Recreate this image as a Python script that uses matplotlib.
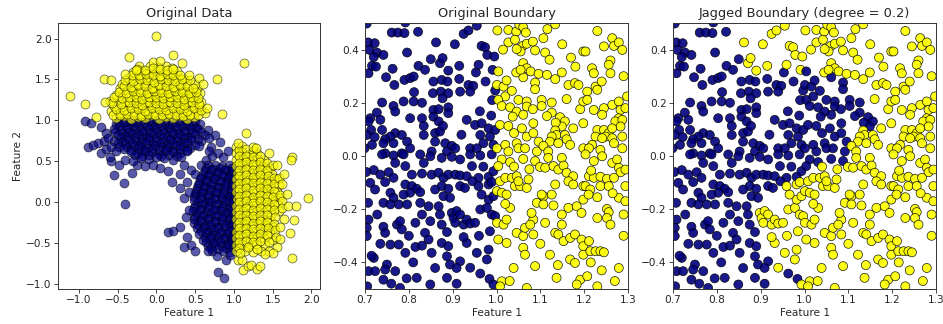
import numpy as np
import matplotlib
matplotlib.use("Agg")
import matplotlib.pyplot as plt

# ---------------- Left panel: "Original Data" (class 0 = navy, class 1 = yellow)
yellow_top = [
    (-0.52,1.03),(-0.42,1.05),(-0.33,1.02),(-0.24,1.04),(-0.15,1.03),(-0.06,1.06),(0.03,1.02),(0.12,1.04),(0.21,1.03),(0.30,1.05),(0.39,1.02),(0.48,1.04),
    (-0.58,1.11),(-0.47,1.09),(-0.38,1.12),(-0.29,1.10),(-0.20,1.08),(-0.11,1.12),(-0.02,1.10),(0.07,1.11),(0.16,1.09),(0.25,1.12),(0.34,1.10),(0.43,1.08),(0.52,1.11),(0.62,1.09),
    (-0.55,1.18),(-0.45,1.16),(-0.36,1.19),(-0.27,1.17),(-0.18,1.15),(-0.09,1.19),(0.00,1.17),(0.09,1.16),(0.18,1.19),(0.27,1.17),(0.36,1.15),(0.45,1.18),(0.55,1.17),
    (-0.60,1.24),(-0.50,1.26),(-0.40,1.23),(-0.31,1.25),(-0.22,1.24),(-0.13,1.22),(-0.04,1.26),(0.05,1.24),(0.14,1.23),(0.23,1.26),(0.32,1.24),(0.41,1.22),(0.50,1.25),(0.58,1.23),
    (-0.52,1.31),(-0.43,1.33),(-0.34,1.30),(-0.25,1.32),(-0.16,1.31),(-0.07,1.29),(0.02,1.33),(0.11,1.31),(0.20,1.30),(0.29,1.32),(0.38,1.31),(0.47,1.29),(0.56,1.33),
    (-0.47,1.39),(-0.38,1.37),(-0.29,1.40),(-0.20,1.38),(-0.11,1.36),(-0.02,1.40),(0.07,1.38),(0.16,1.37),(0.25,1.39),(0.34,1.38),(0.43,1.36),(0.52,1.39),
    (-0.45,1.45),(-0.33,1.47),(-0.24,1.44),(-0.15,1.46),(-0.06,1.45),(0.03,1.43),(0.12,1.47),(0.21,1.45),(0.30,1.44),(0.40,1.46),(0.50,1.44),
    (-0.37,1.52),(-0.27,1.54),(-0.18,1.51),(-0.09,1.53),(0.00,1.52),(0.09,1.50),(0.18,1.54),(0.27,1.52),(0.36,1.51),
    (-0.30,1.59),(-0.20,1.61),(-0.10,1.58),(-0.01,1.60),(0.08,1.59),(0.17,1.57),(0.26,1.60),
    (-0.22,1.66),(-0.08,1.67),(0.02,1.65),(0.12,1.67),(0.20,1.64),(-0.05,1.71),(0.05,1.72),
    (-0.56,1.07),(-0.47,1.06),(-0.38,1.08),(-0.29,1.07),(-0.20,1.05),(-0.11,1.08),(-0.02,1.07),(0.07,1.06),(0.16,1.08),(0.25,1.07),(0.34,1.05),(0.43,1.07),(0.53,1.06),
    (-0.52,1.14),(-0.42,1.13),(-0.33,1.15),(-0.24,1.14),(-0.15,1.12),(-0.06,1.15),(0.03,1.14),(0.12,1.13),(0.21,1.15),(0.30,1.14),(0.39,1.12),(0.48,1.15),(0.57,1.13),
    (-0.57,1.21),(-0.46,1.20),(-0.36,1.22),(-0.27,1.21),(-0.18,1.19),(-0.09,1.22),(0.00,1.21),(0.09,1.20),(0.18,1.22),(0.27,1.21),(0.36,1.19),(0.46,1.22),(0.55,1.20),
    (-0.55,1.28),(-0.45,1.27),(-0.36,1.29),(-0.27,1.28),(-0.18,1.26),(-0.09,1.29),(0.00,1.28),(0.09,1.27),(0.18,1.29),(0.27,1.28),(0.36,1.26),(0.45,1.29),(0.53,1.27),
    (-0.48,1.35),(-0.39,1.34),(-0.30,1.36),(-0.21,1.35),(-0.12,1.33),(-0.03,1.36),(0.06,1.35),(0.15,1.34),(0.24,1.36),(0.33,1.35),(0.42,1.33),(0.51,1.35),
    (-0.42,1.42),(-0.33,1.41),(-0.24,1.43),(-0.15,1.42),(-0.06,1.40),(0.03,1.43),(0.12,1.42),(0.21,1.41),(0.30,1.43),(0.39,1.42),(0.47,1.40),
    (-0.40,1.49),(-0.30,1.48),(-0.21,1.50),(-0.12,1.49),(-0.03,1.47),(0.06,1.50),(0.15,1.49),(0.24,1.48),(0.33,1.50),(0.43,1.49),
    (-0.32,1.56),(-0.23,1.55),(-0.14,1.57),(-0.05,1.56),(0.04,1.54),(0.13,1.57),(0.22,1.56),(0.31,1.55),
    (-0.25,1.63),(-0.15,1.62),(-0.05,1.64),(0.04,1.63),(0.13,1.61),(0.22,1.63),
    (-1.12,1.30),(-0.92,1.20),(-0.78,1.04),(-0.68,1.50),(-0.58,1.49),(-0.67,1.22),(-0.35,1.78),(-0.27,1.62),
    (0.00,2.03),(0.21,1.80),(0.33,1.70),(0.55,1.52),(0.60,1.45),(0.78,1.50),(0.65,1.15),(0.85,1.08),(1.13,1.70),(0.42,1.55),(-0.40,1.57),
]
yellow_right = [
    (1.02,0.68),(1.10,0.69),
    (1.02,0.60),(1.11,0.61),(1.20,0.59),(1.30,0.60),
    (1.03,0.52),(1.12,0.53),(1.21,0.51),(1.30,0.53),(1.39,0.52),
    (1.02,0.44),(1.11,0.45),(1.20,0.43),(1.29,0.45),(1.38,0.44),(1.46,0.42),
    (1.04,0.36),(1.13,0.37),(1.22,0.35),(1.31,0.37),(1.40,0.36),(1.49,0.34),
    (1.02,0.28),(1.11,0.29),(1.20,0.27),(1.29,0.29),(1.38,0.28),(1.47,0.26),(1.56,0.29),
    (1.03,0.20),(1.12,0.21),(1.21,0.19),(1.30,0.21),(1.39,0.20),(1.48,0.18),(1.58,0.21),
    (1.02,0.12),(1.11,0.13),(1.20,0.11),(1.29,0.13),(1.38,0.12),(1.47,0.10),(1.56,0.13),
    (1.04,0.04),(1.13,0.05),(1.22,0.03),(1.31,0.05),(1.40,0.04),(1.49,0.02),(1.60,0.05),
    (1.02,-0.04),(1.11,-0.03),(1.20,-0.05),(1.29,-0.03),(1.38,-0.04),(1.47,-0.06),(1.57,-0.03),
    (1.03,-0.12),(1.12,-0.11),(1.21,-0.13),(1.30,-0.11),(1.39,-0.12),(1.48,-0.14),(1.58,-0.11),
    (1.02,-0.20),(1.11,-0.19),(1.20,-0.21),(1.29,-0.19),(1.38,-0.20),(1.47,-0.22),
    (1.04,-0.28),(1.13,-0.27),(1.22,-0.29),(1.31,-0.27),(1.40,-0.28),(1.50,-0.30),
    (1.02,-0.36),(1.11,-0.35),(1.20,-0.37),(1.29,-0.35),(1.38,-0.36),(1.47,-0.38),
    (1.03,-0.44),(1.12,-0.43),(1.21,-0.45),(1.30,-0.43),(1.39,-0.44),(1.50,-0.46),
    (1.02,-0.52),(1.11,-0.51),(1.20,-0.53),(1.29,-0.51),(1.40,-0.52),
    (1.03,-0.60),(1.14,-0.59),(1.25,-0.61),(1.35,-0.60),
    (1.06,0.64),(1.15,0.65),(1.25,0.63),
    (1.06,0.56),(1.16,0.57),(1.25,0.55),(1.34,0.57),
    (1.07,0.48),(1.16,0.49),(1.25,0.47),(1.34,0.49),(1.43,0.48),
    (1.06,0.40),(1.15,0.41),(1.24,0.39),(1.33,0.41),(1.42,0.40),
    (1.07,0.32),(1.16,0.33),(1.25,0.31),(1.34,0.33),(1.44,0.32),(1.52,0.30),
    (1.06,0.24),(1.15,0.25),(1.24,0.23),(1.33,0.25),(1.43,0.24),(1.52,0.22),
    (1.07,0.16),(1.16,0.17),(1.25,0.15),(1.34,0.17),(1.43,0.16),(1.52,0.14),
    (1.06,0.08),(1.15,0.09),(1.24,0.07),(1.33,0.09),(1.42,0.08),(1.51,0.06),(1.60,0.09),
    (1.07,0.00),(1.16,0.01),(1.25,-0.01),(1.34,0.01),(1.43,0.00),(1.52,-0.02),(1.62,0.01),
    (1.06,-0.08),(1.15,-0.07),(1.24,-0.09),(1.33,-0.07),(1.42,-0.08),(1.52,-0.10),(1.62,-0.07),
    (1.07,-0.16),(1.16,-0.15),(1.25,-0.17),(1.34,-0.15),(1.43,-0.16),(1.53,-0.18),
    (1.06,-0.24),(1.15,-0.23),(1.24,-0.25),(1.33,-0.23),(1.42,-0.24),(1.52,-0.26),
    (1.07,-0.32),(1.16,-0.31),(1.25,-0.33),(1.34,-0.31),(1.44,-0.32),(1.53,-0.34),
    (1.06,-0.40),(1.15,-0.39),(1.24,-0.41),(1.33,-0.39),(1.42,-0.40),(1.54,-0.42),
    (1.07,-0.48),(1.16,-0.47),(1.25,-0.49),(1.34,-0.47),(1.45,-0.48),
    (1.07,-0.56),(1.18,-0.55),(1.30,-0.57),
    (1.15,0.84),(1.05,0.72),(1.25,0.68),(1.28,0.66),(1.50,0.45),(1.55,0.45),(1.58,0.30),(1.62,0.22),
    (1.68,0.10),(1.70,-0.05),(1.80,-0.05),(1.78,-0.22),(1.95,0.05),(1.75,0.55),(1.73,0.52),(1.65,-0.20),
    (1.72,-0.38),(1.60,-0.45),(1.75,-0.68),(1.55,-0.55),(1.45,-0.60),(1.50,-0.62),(1.40,-0.63),(1.12,-0.83),
    (1.18,-0.78),(1.22,-0.77),(1.30,-0.82),(1.33,-0.78),(1.05,-0.70),(1.10,-0.70),(1.08,-0.62),(1.65,0.35),
    (1.45,0.60),(1.60,-0.30),
]
navy_upper = [
    (-0.50,0.99),(-0.40,0.99),(-0.30,0.99),(-0.20,0.99),(-0.10,0.99),(0.00,0.99),(0.10,0.99),(0.20,0.99),(0.30,0.99),(0.40,0.99),(0.50,0.99),
    (-0.52,0.96),(-0.43,0.97),(-0.34,0.95),(-0.25,0.97),(-0.16,0.96),(-0.07,0.94),(0.02,0.97),(0.11,0.96),(0.20,0.95),(0.29,0.97),(0.38,0.96),(0.47,0.94),(0.56,0.96),
    (-0.48,0.93),(-0.39,0.92),(-0.30,0.93),(-0.21,0.91),(-0.12,0.93),(-0.03,0.92),(0.06,0.93),(0.15,0.91),(0.24,0.93),(0.33,0.92),(0.42,0.93),(0.51,0.91),
    (-0.55,0.89),(-0.46,0.88),(-0.37,0.90),(-0.28,0.89),(-0.19,0.87),(-0.10,0.90),(-0.01,0.89),(0.08,0.88),(0.17,0.90),(0.26,0.89),(0.35,0.87),(0.44,0.90),(0.53,0.89),(0.66,0.88),
    (-0.53,0.86),(-0.44,0.85),(-0.35,0.86),(-0.26,0.84),(-0.17,0.86),(-0.08,0.85),(0.01,0.86),(0.10,0.84),(0.19,0.86),(0.28,0.85),(0.37,0.86),(0.46,0.84),(0.58,0.86),
    (-0.50,0.82),(-0.41,0.81),(-0.32,0.83),(-0.23,0.82),(-0.14,0.80),(-0.05,0.83),(0.04,0.82),(0.13,0.81),(0.22,0.83),(0.31,0.82),(0.40,0.80),(0.50,0.83),(0.62,0.82),(0.76,0.82),
    (-0.46,0.79),(-0.37,0.78),(-0.28,0.79),(-0.19,0.77),(-0.10,0.79),(-0.01,0.78),(0.08,0.79),(0.17,0.77),(0.26,0.79),(0.35,0.78),(0.44,0.79),(0.54,0.77),(0.68,0.79),
    (-0.55,0.75),(-0.45,0.74),(-0.36,0.76),(-0.27,0.75),(-0.18,0.73),(-0.09,0.76),(0.00,0.75),(0.09,0.74),(0.18,0.76),(0.27,0.75),(0.36,0.73),(0.45,0.76),(0.58,0.75),(0.82,0.74),
    (-0.50,0.72),(-0.41,0.71),(-0.32,0.72),(-0.23,0.70),(-0.14,0.72),(-0.05,0.71),(0.04,0.72),(0.13,0.70),(0.22,0.72),(0.31,0.71),(0.40,0.72),(0.50,0.70),
    (-0.48,0.68),(-0.38,0.67),(-0.29,0.69),(-0.20,0.68),(-0.11,0.66),(-0.02,0.69),(0.07,0.68),(0.16,0.67),(0.25,0.69),(0.34,0.68),(0.43,0.66),(0.55,0.69),(0.70,0.68),
    (-0.42,0.65),(-0.33,0.64),(-0.24,0.65),(-0.15,0.63),(-0.06,0.65),(0.03,0.64),(0.12,0.65),(0.21,0.63),(0.30,0.65),(0.39,0.64),
    (-0.33,0.61),(-0.24,0.60),(-0.15,0.62),(-0.06,0.61),(0.03,0.59),(0.12,0.62),(0.21,0.61),(0.30,0.60),(0.40,0.62),
    (-0.28,0.58),(-0.19,0.57),(-0.10,0.58),(0.06,0.57),(0.16,0.58),(0.26,0.57),
    (-0.20,0.54),(-0.10,0.53),(0.00,0.55),(0.10,0.54),(0.22,0.52),(0.32,0.55),
    (-0.92,0.99),(-0.85,0.97),(-0.72,0.92),(-0.65,0.85),(-0.88,0.68),(-0.82,0.70),(-0.75,0.72),(-0.68,0.75),
    (-0.62,0.78),(-0.72,0.60),(-0.65,0.65),(-0.58,0.68),(-0.52,0.62),(-0.58,0.50),(-0.48,0.46),(-0.40,0.52),
    (-0.55,0.33),(-0.42,0.23),(-0.40,-0.02),(-0.32,0.36),(-0.25,0.45),(-0.15,0.44),(-0.05,0.45),(0.05,0.42),
    (0.15,0.38),(0.30,0.35),(0.20,0.25),(-0.60,0.55),(-0.30,0.50),
    (0.35,0.45),(0.30,0.18),(0.40,0.25),(0.45,0.40),(0.50,0.35),(0.58,0.46),(0.64,0.52),(0.72,0.56),
    (0.68,0.62),(0.80,0.60),(0.86,0.55),(0.92,0.62),
]
navy_lower = [
    (0.66,0.45),(0.75,0.46),(0.84,0.44),(0.93,0.45),
    (0.64,0.42),(0.73,0.41),(0.82,0.42),(0.91,0.40),(0.98,0.42),
    (0.62,0.38),(0.71,0.39),(0.80,0.37),(0.89,0.39),(0.97,0.38),
    (0.60,0.35),(0.69,0.34),(0.78,0.35),(0.87,0.33),(0.96,0.35),
    (0.58,0.31),(0.67,0.32),(0.76,0.30),(0.85,0.32),(0.94,0.31),
    (0.56,0.28),(0.65,0.27),(0.74,0.28),(0.83,0.26),(0.92,0.28),(0.99,0.30),
    (0.55,0.24),(0.64,0.25),(0.73,0.23),(0.82,0.25),(0.91,0.24),(0.98,0.22),
    (0.53,0.21),(0.62,0.20),(0.71,0.21),(0.80,0.19),(0.89,0.21),(0.97,0.20),
    (0.52,0.17),(0.61,0.18),(0.70,0.16),(0.79,0.18),(0.88,0.17),(0.96,0.15),
    (0.51,0.14),(0.60,0.13),(0.69,0.14),(0.78,0.12),(0.87,0.14),(0.96,0.13),
    (0.50,0.10),(0.59,0.11),(0.68,0.09),(0.77,0.11),(0.86,0.10),(0.95,0.08),
    (0.49,0.07),(0.58,0.06),(0.67,0.07),(0.76,0.05),(0.85,0.07),(0.94,0.06),(0.99,0.05),
    (0.48,0.03),(0.57,0.04),(0.66,0.02),(0.75,0.04),(0.84,0.03),(0.93,0.01),
    (0.53,0.00),(0.62,-0.01),(0.71,0.00),(0.80,-0.02),(0.89,0.00),(0.98,-0.01),
    (0.50,-0.04),(0.59,-0.03),(0.68,-0.05),(0.77,-0.03),(0.86,-0.04),(0.95,-0.06),
    (0.48,-0.07),(0.57,-0.08),(0.66,-0.07),(0.75,-0.09),(0.84,-0.07),(0.93,-0.08),
    (0.47,-0.11),(0.56,-0.10),(0.65,-0.12),(0.74,-0.10),(0.83,-0.11),(0.92,-0.13),(0.98,-0.10),
    (0.52,-0.14),(0.61,-0.15),(0.70,-0.14),(0.79,-0.16),(0.88,-0.14),(0.97,-0.15),
    (0.50,-0.18),(0.59,-0.17),(0.68,-0.19),(0.77,-0.17),(0.86,-0.18),(0.95,-0.20),
    (0.49,-0.21),(0.58,-0.22),(0.67,-0.21),(0.76,-0.23),(0.85,-0.21),(0.94,-0.22),
    (0.48,-0.25),(0.57,-0.24),(0.66,-0.26),(0.75,-0.24),(0.84,-0.25),(0.93,-0.27),(0.99,-0.25),
    (0.53,-0.28),(0.62,-0.29),(0.71,-0.28),(0.80,-0.30),(0.89,-0.28),(0.98,-0.29),
    (0.52,-0.32),(0.61,-0.31),(0.70,-0.33),(0.79,-0.31),(0.88,-0.32),(0.97,-0.34),
    (0.57,-0.35),(0.66,-0.36),(0.75,-0.35),(0.84,-0.37),(0.93,-0.35),
    (0.55,-0.39),(0.64,-0.38),(0.73,-0.40),(0.82,-0.38),(0.91,-0.39),(0.99,-0.40),
    (0.62,-0.42),(0.71,-0.43),(0.80,-0.42),(0.89,-0.44),(0.98,-0.42),
    (0.60,-0.46),(0.69,-0.45),(0.78,-0.47),(0.87,-0.45),(0.96,-0.46),
    (0.64,-0.49),(0.73,-0.50),(0.82,-0.49),(0.91,-0.51),(0.98,-0.49),
    (0.66,-0.53),(0.75,-0.52),(0.84,-0.54),(0.93,-0.52),(0.99,-0.55),
    (0.70,-0.56),(0.79,-0.57),(0.90,-0.56),
    (0.72,-0.60),(0.86,-0.59),(0.95,-0.61),
    (0.15,-0.36),(0.22,-0.35),(0.35,-0.55),(0.38,-0.18),(0.42,-0.10),(0.30,-0.30),(0.40,-0.42),(0.45,-0.52),
    (0.80,-0.85),(0.87,-0.92),(0.78,-0.66),(0.66,-0.60),(0.50,-0.60),(0.35,0.05),(0.42,0.12),(0.90,-0.70),
    (0.95,-0.65),
]

# ---------------- Middle / right panels: same points, two labelings
navy_both = [
    (0.792,0.502),(0.761,0.464),(0.775,0.464),(0.790,0.462),(0.821,0.467),(0.707,0.427),(0.722,0.424),(0.710,0.399),
    (0.727,0.389),(0.720,0.372),(0.742,0.380),(0.796,0.389),(0.822,0.339),(0.837,0.324),(0.716,0.339),(0.725,0.336),
    (0.708,0.311),(0.763,0.328),(0.748,0.296),(0.790,0.286),(0.803,0.293),(0.811,0.299),(0.767,0.267),(0.811,0.205),
    (0.788,0.205),(0.739,0.201),(0.765,0.188),(0.769,0.167),(0.727,0.163),(0.712,0.142),(0.708,0.130),(0.735,0.136),
    (0.803,0.142),(0.830,0.142),(0.834,0.113),(0.714,0.098),(0.739,0.098),(0.704,0.079),(0.722,0.071),(0.769,0.086),
    (0.758,0.073),(0.746,0.063),(0.784,0.079),(0.834,0.079),(0.716,0.042),(0.742,0.048),(0.765,0.048),(0.796,0.054),
    (0.803,0.029),(0.699,0.029),(0.746,0.010),(0.784,0.010),(0.704,0.498),(0.812,0.240),(0.830,0.200),
    (0.739,0.006),(0.765,0.002),(0.788,0.006),(0.826,0.006),(0.769,-0.026),(0.792,-0.038),(0.834,-0.026),(0.720,-0.053),
    (0.735,-0.070),(0.754,-0.061),(0.765,-0.082),(0.807,-0.070),(0.830,-0.066),(0.712,-0.101),(0.723,-0.126),(0.746,-0.098),
    (0.792,-0.107),(0.807,-0.113),(0.818,-0.123),(0.803,-0.138),(0.826,-0.136),(0.707,-0.176),(0.742,-0.176),(0.758,-0.138),
    (0.765,-0.157),(0.758,-0.182),(0.777,-0.182),(0.796,-0.182),(0.826,-0.176),(0.788,-0.145),(0.708,-0.239),(0.742,-0.266),
    (0.746,-0.289),(0.773,-0.258),(0.780,-0.245),(0.784,-0.276),(0.815,-0.251),(0.837,-0.289),(0.704,-0.270),(0.704,-0.301),
    (0.758,-0.333),(0.777,-0.333),(0.792,-0.364),(0.815,-0.342),(0.830,-0.337),(0.720,-0.383),(0.708,-0.433),(0.723,-0.433),
    (0.750,-0.408),(0.746,-0.427),(0.769,-0.433),(0.742,-0.465),(0.818,-0.458),(0.780,-0.496),(0.703,-0.060),(0.715,-0.375),
    (0.728,-0.220),(0.800,-0.300),(0.735,-0.330),(0.795,-0.460),(0.760,-0.480),(0.705,-0.490),(0.810,-0.400),(0.830,-0.220),
    (0.850,0.364),(0.856,0.280),(0.875,0.286),(0.888,0.280),(0.855,0.236),(0.873,0.242),(0.890,0.236),(0.877,0.217),
    (0.856,0.173),(0.868,0.176),(0.890,0.183),(0.890,0.161),(0.917,0.242),(0.936,0.267),(0.947,0.264),(0.940,0.242),
    (0.953,0.314),(0.997,0.246),(0.932,0.136),(0.951,0.117),(0.966,0.123),(0.982,0.104),(0.997,0.098),(0.963,0.079),
    (0.985,0.073),(0.970,0.048),(0.860,0.086),(0.871,0.092),(0.860,0.054),(0.883,0.048),(0.898,0.038),(0.940,0.029),
    (0.955,0.029),(0.993,0.042),(0.852,0.017),(0.887,0.017),(0.906,0.029),(0.856,0.148),(0.868,0.130),(0.878,0.113),
    (0.962,0.168),(0.988,0.152),(0.915,0.290),(0.975,0.280),(0.990,0.210),(0.920,0.080),
    (0.849,-0.001),(0.875,-0.007),(0.898,-0.003),(0.917,-0.013),(0.940,0.006),(0.963,0.002),(0.989,0.006),(0.852,-0.070),
    (0.868,-0.063),(0.879,-0.082),(0.890,-0.070),(0.906,-0.070),(0.917,-0.073),(0.932,-0.076),(0.944,-0.038),(0.959,-0.082),
    (0.982,-0.078),(0.993,-0.057),(0.875,-0.113),(0.890,-0.123),(0.917,-0.113),(0.928,-0.120),(0.860,-0.126),(0.879,-0.151),
    (0.894,-0.157),(0.845,-0.189),(0.868,-0.189),(0.871,-0.220),(0.849,-0.245),(0.875,-0.258),(0.887,-0.286),(0.845,-0.314),
    (0.875,-0.327),(0.890,-0.339),(0.852,-0.364),(0.887,-0.377),(0.917,-0.396),(0.860,-0.421),(0.894,-0.408),(0.909,-0.421),
    (0.963,-0.442),(0.984,-0.462),(0.887,-0.458),(0.909,-0.480),(0.849,-0.483),(0.970,-0.040),(0.945,-0.095),
]
navy_to_yellow = [
    (0.862,0.427),(0.871,0.349),(0.877,0.368),(0.890,0.321),(0.915,0.339),(0.925,0.459),(0.936,0.472),(0.959,0.343),
    (0.966,0.414),(0.974,0.409),(0.979,0.380),(0.995,0.374),(0.991,0.324),(0.905,0.420),(0.955,0.490),
    (0.898,-0.214),(0.902,-0.233),(0.909,-0.207),(0.917,-0.220),(0.906,-0.251),(0.925,-0.258),(0.932,-0.239),(0.940,-0.254),
    (0.951,-0.251),(0.963,-0.201),(0.978,-0.195),(0.989,-0.220),(0.997,-0.226),(0.982,-0.164),(0.993,-0.151),(0.966,-0.145),
    (0.959,-0.113),(0.982,-0.107),(0.989,-0.098),(0.932,-0.327),(0.955,-0.364),(0.978,-0.389),(0.982,-0.352),(0.985,-0.283),
    (0.993,-0.483),(0.925,-0.305),(0.960,-0.300),(0.940,-0.420),
]
yellow_to_navy = [
    (1.004,0.318),(1.001,0.267),(1.016,0.261),(1.023,0.284),(1.020,0.224),(1.004,0.211),(1.061,0.296),(1.088,0.276),
    (1.088,0.251),(1.050,0.211),(1.069,0.205),(1.103,0.211),(1.126,0.201),(1.012,0.188),(1.031,0.183),(1.046,0.167),
    (1.069,0.186),(1.083,0.176),(1.103,0.188),(1.126,0.163),(1.145,0.146),(1.156,0.130),(1.149,0.111),(1.008,0.117),
    (1.027,0.113),(1.040,0.086),(1.058,0.104),(1.069,0.073),(1.084,0.086),(1.096,0.054),(1.001,0.029),(1.020,0.042),
    (1.027,0.017),(1.046,0.048),(1.050,0.029),(1.065,0.029),(1.092,0.017),(1.012,-0.013),(1.031,-0.023),(1.061,-0.011),
    (1.088,-0.019),(1.004,-0.038),(1.037,0.148),(1.061,0.155),(1.084,0.123),(1.035,0.245),(1.115,0.150),(1.135,0.125),
]
yellow_both = [
    (1.002,0.472),(1.027,0.474),(1.027,0.427),(1.045,0.468),(1.042,0.437),(1.052,0.493),(1.061,0.484),(1.067,0.464),
    (1.060,0.414),(1.069,0.422),(1.083,0.430),(1.055,0.393),(1.046,0.402),(1.088,0.397),(1.107,0.443),(1.116,0.477),
    (1.111,0.389),(1.121,0.362),(1.134,0.495),(1.061,0.349),(1.069,0.330),(1.078,0.318),(1.045,0.314),(1.055,0.324),
    (1.096,0.309),(1.115,0.305),(1.134,0.289),(1.149,0.314),(1.164,0.267),(1.179,0.274),(1.187,0.267),(1.160,0.214),
    (1.198,0.393),(1.191,0.176),(1.198,0.205),(1.198,0.123),(1.175,0.104),(1.134,0.096),(1.137,0.079),(1.126,0.073),
    (1.156,0.079),(1.160,0.063),(1.122,0.054),(1.141,0.048),(1.168,0.042),(1.107,0.038),(1.118,0.017),(1.198,0.029),
    (1.180,0.336),(1.015,0.400),(1.150,0.420),(1.170,0.370),
    (1.008,-0.095),(1.020,-0.082),(1.001,-0.132),(1.012,-0.138),(1.023,-0.145),(1.035,-0.082),(1.046,-0.076),(1.042,-0.113),
    (1.054,-0.113),(1.069,-0.120),(1.073,-0.088),(1.050,-0.095),(1.001,-0.251),(1.016,-0.258),(1.023,-0.239),(1.031,-0.195),
    (1.004,-0.314),(1.023,-0.327),(1.046,-0.289),(1.061,-0.301),(1.065,-0.270),(1.084,-0.239),(1.084,-0.295),(1.077,-0.258),
    (1.080,-0.214),(1.092,-0.176),(1.107,-0.151),(1.107,-0.182),(1.126,-0.145),(1.130,-0.186),(1.111,-0.251),(1.149,-0.258),
    (1.134,-0.289),(1.141,-0.295),(1.153,-0.320),(1.168,-0.308),(1.179,-0.295),(1.194,-0.314),(1.198,-0.339),(1.061,-0.345),
    (1.065,-0.371),(1.122,-0.371),(1.088,-0.414),(1.039,-0.421),(1.137,-0.458),(1.168,-0.389),(1.179,-0.402),(1.198,-0.371),
    (1.191,-0.465),(1.183,-0.483),(1.012,-0.471),(1.008,-0.490),(1.069,-0.496),(1.099,-0.041),(1.111,-0.044),(1.118,-0.007),
    (1.149,-0.007),(1.130,-0.038),(1.141,-0.051),(1.153,-0.036),(1.160,-0.063),(1.175,-0.076),(1.164,-0.095),(1.134,-0.107),
    (1.175,-0.107),(1.198,-0.113),(1.103,-0.145),(1.149,-0.220),(1.164,-0.195),(1.183,-0.189),(1.194,-0.214),(1.198,-0.164),
    (1.020,-0.180),(1.040,-0.040),(1.075,-0.050),(1.100,-0.330),(1.140,-0.410),(1.030,-0.470),
    (1.203,0.393),(1.245,0.412),(1.264,0.443),(1.268,0.414),(1.279,0.427),(1.287,0.399),(1.260,0.359),(1.256,0.343),
    (1.260,0.311),(1.218,0.330),(1.222,0.311),(1.207,0.242),(1.226,0.261),(1.230,0.249),(1.207,0.211),(1.222,0.173),
    (1.245,0.180),(1.241,0.155),(1.264,0.192),(1.279,0.205),(1.283,0.173),(1.294,0.180),(1.298,0.224),(1.279,0.142),
    (1.271,0.130),(1.287,0.136),(1.283,0.111),(1.230,0.098),(1.245,0.098),(1.256,0.086),(1.249,0.073),(1.264,0.104),
    (1.226,0.073),(1.241,0.067),(1.264,0.067),(1.287,0.073),(1.218,0.042),(1.237,0.023),(1.268,0.048),(1.287,0.029),
    (1.211,0.029),(1.230,0.470),(1.290,0.300),(1.240,0.280),
    (1.203,0.006),(1.222,-0.019),(1.241,-0.001),(1.264,-0.026),(1.275,-0.013),(1.279,-0.044),(1.283,-0.061),(1.294,-0.051),
    (1.211,-0.076),(1.222,-0.082),(1.237,-0.078),(1.252,-0.086),(1.268,-0.082),(1.203,-0.113),(1.214,-0.126),(1.237,-0.113),
    (1.256,-0.113),(1.294,-0.113),(1.279,-0.157),(1.294,-0.170),(1.252,-0.199),(1.256,-0.211),(1.252,-0.233),(1.260,-0.258),
    (1.230,-0.233),(1.290,-0.220),(1.211,-0.320),(1.214,-0.358),(1.226,-0.358),(1.237,-0.358),(1.245,-0.362),(1.279,-0.421),
    (1.207,-0.452),(1.230,-0.490),(1.216,-0.055),(1.210,-0.145),(1.265,-0.140),(1.230,-0.155),(1.290,-0.300),(1.240,-0.430),
    (1.215,-0.400),(1.270,-0.470),
]

titles = ["Original Data", "Original Boundary", "Jagged Boundary (degree = 0.2)"]
xlabel = "Feature 1"
ylabel = "Feature 2"
left_ticks = [-1.0, -0.5, 0.0, 0.5, 1.0, 1.5, 2.0]
zoom_xticks = [0.7, 0.8, 0.9, 1.0, 1.1, 1.2, 1.3]
zoom_yticks = [-0.4, -0.2, 0.0, 0.2, 0.4]

NAVY = "#000080"
YELLOW = "#ffff00"
TEXT = "#262626"

def arr(pts):
    a = np.array(pts, dtype=float)
    return a[:, 0], a[:, 1]

fig = plt.figure(figsize=(9.43, 3.24), dpi=100)
W, H = 943, 324
def pos(l, r, t, b):
    return [l / W, (H - b) / H, (r - l) / W, (b - t) / H]

ax1 = fig.add_axes(pos(58, 320, 23, 289))
ax2 = fig.add_axes(pos(365, 628, 23, 289))
ax3 = fig.add_axes(pos(673, 936, 23, 289))

S = 42
for pts, col in [(navy_upper, NAVY), (navy_lower, NAVY), (yellow_top, YELLOW), (yellow_right, YELLOW)]:
    x, y = arr(pts)
    ax1.scatter(x, y, s=S, c=col, edgecolors="k", linewidths=0.5, alpha=0.65)
ax1.set_xlim(-1.27, 2.11)
ax1.set_ylim(-1.06, 2.19)
ax1.set_xticks(left_ticks)
ax1.set_yticks(left_ticks)
ax1.set_ylabel(ylabel, fontsize=7.6, color=TEXT, labelpad=2)

groups = [navy_both, navy_to_yellow, yellow_to_navy, yellow_both]
orig_cols = [NAVY, NAVY, YELLOW, YELLOW]
jag_cols = [NAVY, YELLOW, NAVY, YELLOW]
xs = np.concatenate([arr(g)[0] for g in groups])
ys = np.concatenate([arr(g)[1] for g in groups])
c_orig = sum([[c] * len(g) for g, c in zip(groups, orig_cols)], [])
c_jag = sum([[c] * len(g) for g, c in zip(groups, jag_cols)], [])
for ax, cols in [(ax2, c_orig), (ax3, c_jag)]:
    ax.scatter(xs, ys, s=S, c=cols, edgecolors="k", linewidths=0.5, alpha=0.9)
    ax.set_xlim(0.7, 1.3)
    ax.set_ylim(-0.5, 0.5)
    ax.set_xticks(zoom_xticks)
    ax.set_yticks(zoom_yticks)

for ax, t in zip([ax1, ax2, ax3], titles):
    ax.set_title(t, fontsize=9.4, color=TEXT, pad=4)
    ax.set_xlabel(xlabel, fontsize=7.6, color=TEXT, labelpad=2)
    ax.tick_params(labelsize=7.6, colors=TEXT, length=2.6, width=0.6, pad=2)
    for sp in ax.spines.values():
        sp.set_linewidth(0.7)
        sp.set_color("#333333")

fig.savefig("out.png", dpi=100)
